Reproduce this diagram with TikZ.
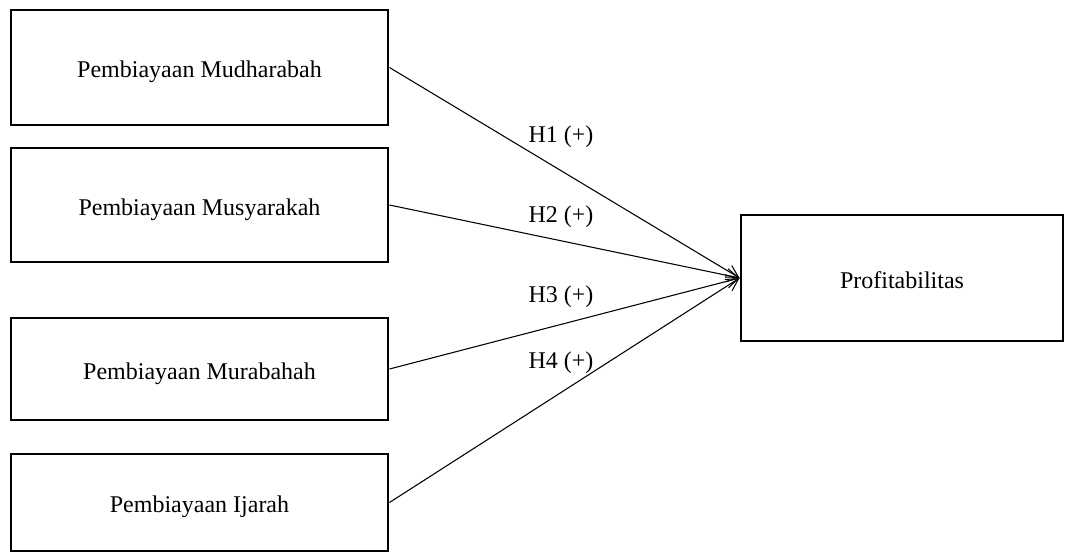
\documentclass[tikz,border=0pt]{standalone}
\usepackage{fontspec}
\setmainfont{Liberation Serif}
\usetikzlibrary{arrows.meta}
\begin{document}
\begin{tikzpicture}[x=0.75pt,y=-0.75pt,
  box/.style={draw=black,line width=2.2pt,rectangle,inner sep=0pt,text height=19pt,text depth=4pt,font=\fontsize{18}{20}\selectfont},
  lbl/.style={font=\fontsize{18}{20}\selectfont,inner sep=1pt},
  conn/.style={line width=0.8pt,-{Straight Barb[length=9pt,width=10pt,line width=0.8pt]}}]
\useasboundingbox (0,0) rectangle (1065,554);
\node[box,minimum width=282.75pt,minimum height=86.25pt] (b1) at (199.5,67.5) {Pembiayaan Mudharabah};
\node[box,minimum width=282.75pt,minimum height=85.5pt] (b2) at (199.5,205) {Pembiayaan Musyarakah};
\node[box,minimum width=282.75pt,minimum height=76.5pt] (b3) at (199.5,369) {Pembiayaan Murabahah};
\node[box,minimum width=282.75pt,minimum height=72.75pt] (b4) at (199.5,502.5) {Pembiayaan Ijarah};
\node[box,minimum width=241.5pt,minimum height=94.5pt] (p) at (902,278) {Profitabilitas};
\draw[conn] (b1.east) -- (p.west);
\draw[conn] (b2.east) -- (p.west);
\draw[conn] (b3.east) -- (p.west);
\draw[conn] (b4.east) -- (p.west);
\node[lbl] (h1) at (561,137) {H1 (+)};
\node[lbl] (h2) at (561,217) {H2 (+)};
\node[lbl] (h3) at (561,297) {H3 (+)};
\node[lbl] (h4) at (561,363) {H4 (+)};
\end{tikzpicture}
\end{document}
